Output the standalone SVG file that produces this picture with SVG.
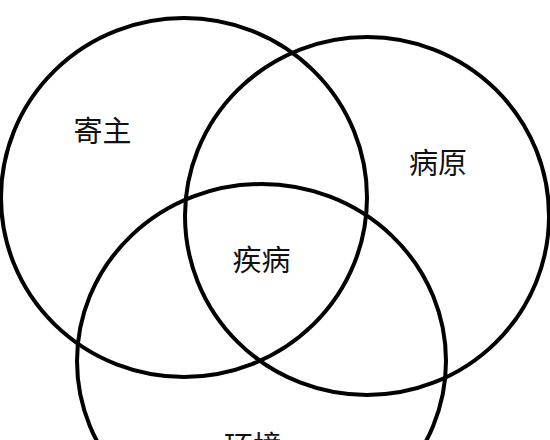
<svg xmlns="http://www.w3.org/2000/svg" width="550" height="440" viewBox="0 0 550 440">
<style>
.c{fill:none;stroke:#000;stroke-width:4}
.t{font-family:"Noto Sans CJK SC","Noto Sans CJK JP",sans-serif;font-size:29px;fill:#111;text-anchor:middle}
</style>
<rect width="550" height="440" fill="#fff"/>
<g id="host"><ellipse class="c" cx="184" cy="197.5" rx="183" ry="179.5"/><text class="t" x="102.5" y="142">寄主</text></g>
<g id="pathogen"><ellipse class="c" cx="367" cy="216" rx="182" ry="179"/><text class="t" x="438" y="174">病原</text></g>
<g id="environment"><ellipse class="c" cx="261.5" cy="361" rx="184.5" ry="177"/><text class="t" x="253" y="457">环境</text></g>
<g id="disease"><text class="t" x="261.5" y="271">疾病</text></g>
<g id="connectors"></g>
</svg>
